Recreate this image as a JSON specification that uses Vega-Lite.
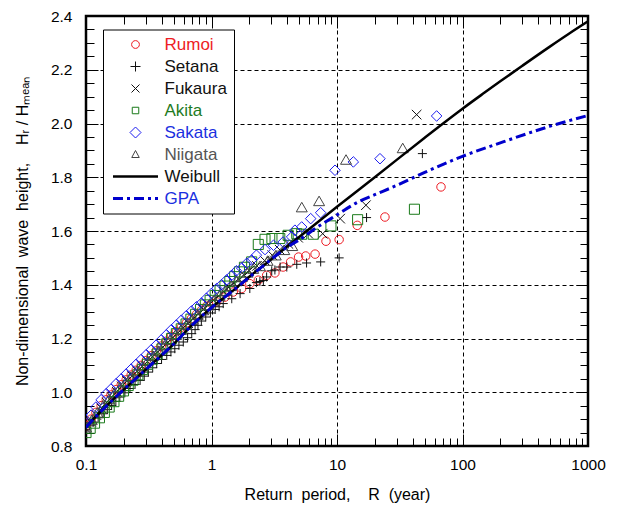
{
  "$schema": "https://vega.github.io/schema/vega-lite/v6.json",
  "width": 502,
  "height": 430,
  "autosize": "none",
  "padding": {"left": 86, "top": 16, "right": 30, "bottom": 60},
  "background": "white",
  "config": {
    "view": {"stroke": "black", "strokeWidth": 2.5},
    "font": "Liberation Sans",
    "axis": {"domain": false, "zindex": 1, "labelFont": "Liberation Sans", "labelFontSize": 15.5, "labelColor": "black", "titleFont": "Liberation Sans", "titleFontSize": 16, "titleFontWeight": "normal", "titleColor": "black", "labelOverlap": false, "labelFlush": false, "gridColor": "black", "gridDash": [4, 3], "gridWidth": 1}
  },
  "datasets": {
    "pts": [
      {"s":"Rumoi","R":0.1,"H":0.875},{"s":"Rumoi","R":0.11,"H":0.9},{"s":"Rumoi","R":0.12,"H":0.925},{"s":"Rumoi","R":0.132,"H":0.95},{"s":"Rumoi","R":0.145,"H":0.972},{"s":"Rumoi","R":0.158,"H":0.99},{"s":"Rumoi","R":0.174,"H":1.01},{"s":"Rumoi","R":0.191,"H":1.028},{"s":"Rumoi","R":0.209,"H":1.046},{"s":"Rumoi","R":0.229,"H":1.064},{"s":"Rumoi","R":0.251,"H":1.082},{"s":"Rumoi","R":0.275,"H":1.1},{"s":"Rumoi","R":0.302,"H":1.118},{"s":"Rumoi","R":0.331,"H":1.136},{"s":"Rumoi","R":0.363,"H":1.154},{"s":"Rumoi","R":0.398,"H":1.172},{"s":"Rumoi","R":0.437,"H":1.19},{"s":"Rumoi","R":0.479,"H":1.208},{"s":"Rumoi","R":0.525,"H":1.225},{"s":"Rumoi","R":0.575,"H":1.242},{"s":"Rumoi","R":0.631,"H":1.258},{"s":"Rumoi","R":0.692,"H":1.274},{"s":"Rumoi","R":0.759,"H":1.29},{"s":"Rumoi","R":0.832,"H":1.305},{"s":"Rumoi","R":0.912,"H":1.32},{"s":"Rumoi","R":1.0,"H":1.33},{"s":"Rumoi","R":1.1,"H":1.336},{"s":"Rumoi","R":1.28,"H":1.354},{"s":"Rumoi","R":1.49,"H":1.373},{"s":"Rumoi","R":1.74,"H":1.386},{"s":"Rumoi","R":2.02,"H":1.404},{"s":"Rumoi","R":2.36,"H":1.417},{"s":"Rumoi","R":2.75,"H":1.435},{"s":"Rumoi","R":3.2,"H":1.444},{"s":"Rumoi","R":3.72,"H":1.466},{"s":"Rumoi","R":4.27,"H":1.485},{"s":"Rumoi","R":4.94,"H":1.503},{"s":"Rumoi","R":5.63,"H":1.507},{"s":"Rumoi","R":6.69,"H":1.514},{"s":"Rumoi","R":8.17,"H":1.562},{"s":"Rumoi","R":10.4,"H":1.568},{"s":"Rumoi","R":14.5,"H":1.621},{"s":"Rumoi","R":24.1,"H":1.652},{"s":"Rumoi","R":67.4,"H":1.764},
      {"s":"Setana","R":0.1,"H":0.86},{"s":"Setana","R":0.107,"H":0.875},{"s":"Setana","R":0.114,"H":0.889},{"s":"Setana","R":0.125,"H":0.905},{"s":"Setana","R":0.137,"H":0.92},{"s":"Setana","R":0.148,"H":0.936},{"s":"Setana","R":0.16,"H":0.951},{"s":"Setana","R":0.173,"H":0.966},{"s":"Setana","R":0.186,"H":0.982},{"s":"Setana","R":0.204,"H":0.998},{"s":"Setana","R":0.224,"H":1.014},{"s":"Setana","R":0.246,"H":1.029},{"s":"Setana","R":0.27,"H":1.044},{"s":"Setana","R":0.291,"H":1.06},{"s":"Setana","R":0.314,"H":1.075},{"s":"Setana","R":0.34,"H":1.091},{"s":"Setana","R":0.366,"H":1.107},{"s":"Setana","R":0.4,"H":1.122},{"s":"Setana","R":0.44,"H":1.137},{"s":"Setana","R":0.475,"H":1.15},{"s":"Setana","R":0.51,"H":1.162},{"s":"Setana","R":0.55,"H":1.175},{"s":"Setana","R":0.596,"H":1.187},{"s":"Setana","R":0.645,"H":1.203},{"s":"Setana","R":0.696,"H":1.218},{"s":"Setana","R":0.74,"H":1.233},{"s":"Setana","R":0.78,"H":1.249},{"s":"Setana","R":0.83,"H":1.265},{"s":"Setana","R":0.9,"H":1.28},{"s":"Setana","R":0.98,"H":1.295},{"s":"Setana","R":1.07,"H":1.308},{"s":"Setana","R":1.15,"H":1.318},{"s":"Setana","R":1.24,"H":1.33},{"s":"Setana","R":1.45,"H":1.348},{"s":"Setana","R":1.69,"H":1.367},{"s":"Setana","R":2.02,"H":1.386},{"s":"Setana","R":2.28,"H":1.408},{"s":"Setana","R":2.43,"H":1.412},{"s":"Setana","R":2.59,"H":1.416},{"s":"Setana","R":2.75,"H":1.429},{"s":"Setana","R":3.02,"H":1.452},{"s":"Setana","R":3.2,"H":1.455},{"s":"Setana","R":3.52,"H":1.466},{"s":"Setana","R":3.98,"H":1.466},{"s":"Setana","R":4.78,"H":1.476},{"s":"Setana","R":5.72,"H":1.481},{"s":"Setana","R":7.41,"H":1.485},{"s":"Setana","R":10.4,"H":1.5},{"s":"Setana","R":17.2,"H":1.65},{"s":"Setana","R":47.9,"H":1.888},
      {"s":"Fukaura","R":0.1,"H":0.865},{"s":"Fukaura","R":0.11,"H":0.89},{"s":"Fukaura","R":0.121,"H":0.915},{"s":"Fukaura","R":0.133,"H":0.94},{"s":"Fukaura","R":0.146,"H":0.962},{"s":"Fukaura","R":0.16,"H":0.982},{"s":"Fukaura","R":0.176,"H":1.002},{"s":"Fukaura","R":0.193,"H":1.022},{"s":"Fukaura","R":0.212,"H":1.042},{"s":"Fukaura","R":0.233,"H":1.06},{"s":"Fukaura","R":0.256,"H":1.078},{"s":"Fukaura","R":0.281,"H":1.096},{"s":"Fukaura","R":0.309,"H":1.114},{"s":"Fukaura","R":0.339,"H":1.132},{"s":"Fukaura","R":0.372,"H":1.15},{"s":"Fukaura","R":0.409,"H":1.168},{"s":"Fukaura","R":0.449,"H":1.186},{"s":"Fukaura","R":0.493,"H":1.204},{"s":"Fukaura","R":0.541,"H":1.222},{"s":"Fukaura","R":0.594,"H":1.24},{"s":"Fukaura","R":0.652,"H":1.257},{"s":"Fukaura","R":0.716,"H":1.274},{"s":"Fukaura","R":0.786,"H":1.291},{"s":"Fukaura","R":0.863,"H":1.308},{"s":"Fukaura","R":0.948,"H":1.325},{"s":"Fukaura","R":1.04,"H":1.342},{"s":"Fukaura","R":1.14,"H":1.358},{"s":"Fukaura","R":1.25,"H":1.374},{"s":"Fukaura","R":1.37,"H":1.39},{"s":"Fukaura","R":1.51,"H":1.406},{"s":"Fukaura","R":1.66,"H":1.42},{"s":"Fukaura","R":1.82,"H":1.436},{"s":"Fukaura","R":2.0,"H":1.452},{"s":"Fukaura","R":2.3,"H":1.47},{"s":"Fukaura","R":2.65,"H":1.49},{"s":"Fukaura","R":3.05,"H":1.51},{"s":"Fukaura","R":3.5,"H":1.53},{"s":"Fukaura","R":4.1,"H":1.552},{"s":"Fukaura","R":4.9,"H":1.575},{"s":"Fukaura","R":5.9,"H":1.59},{"s":"Fukaura","R":7.69,"H":1.59},{"s":"Fukaura","R":10.6,"H":1.646},{"s":"Fukaura","R":17.0,"H":1.696},{"s":"Fukaura","R":43.1,"H":2.033},
      {"s":"Akita","R":0.1,"H":0.85},{"s":"Akita","R":0.108,"H":0.866},{"s":"Akita","R":0.117,"H":0.885},{"s":"Akita","R":0.128,"H":0.905},{"s":"Akita","R":0.14,"H":0.925},{"s":"Akita","R":0.153,"H":0.945},{"s":"Akita","R":0.167,"H":0.965},{"s":"Akita","R":0.182,"H":0.985},{"s":"Akita","R":0.199,"H":1.005},{"s":"Akita","R":0.217,"H":1.025},{"s":"Akita","R":0.237,"H":1.045},{"s":"Akita","R":0.259,"H":1.065},{"s":"Akita","R":0.283,"H":1.085},{"s":"Akita","R":0.309,"H":1.104},{"s":"Akita","R":0.338,"H":1.123},{"s":"Akita","R":0.369,"H":1.142},{"s":"Akita","R":0.403,"H":1.161},{"s":"Akita","R":0.44,"H":1.18},{"s":"Akita","R":0.481,"H":1.2},{"s":"Akita","R":0.525,"H":1.218},{"s":"Akita","R":0.574,"H":1.236},{"s":"Akita","R":0.627,"H":1.254},{"s":"Akita","R":0.685,"H":1.272},{"s":"Akita","R":0.748,"H":1.29},{"s":"Akita","R":0.817,"H":1.308},{"s":"Akita","R":0.893,"H":1.325},{"s":"Akita","R":0.975,"H":1.342},{"s":"Akita","R":1.07,"H":1.36},{"s":"Akita","R":1.17,"H":1.378},{"s":"Akita","R":1.28,"H":1.395},{"s":"Akita","R":1.4,"H":1.412},{"s":"Akita","R":1.53,"H":1.43},{"s":"Akita","R":1.67,"H":1.448},{"s":"Akita","R":1.83,"H":1.465},{"s":"Akita","R":2.09,"H":1.485},{"s":"Akita","R":2.36,"H":1.55},{"s":"Akita","R":2.67,"H":1.569},{"s":"Akita","R":3.03,"H":1.572},{"s":"Akita","R":3.5,"H":1.572},{"s":"Akita","R":4.08,"H":1.584},{"s":"Akita","R":4.78,"H":1.59},{"s":"Akita","R":5.23,"H":1.588},{"s":"Akita","R":6.47,"H":1.588},{"s":"Akita","R":8.95,"H":1.619},{"s":"Akita","R":14.6,"H":1.642},{"s":"Akita","R":41.4,"H":1.681},
      {"s":"Sakata","R":0.1,"H":0.885},{"s":"Sakata","R":0.11,"H":0.915},{"s":"Sakata","R":0.12,"H":0.945},{"s":"Sakata","R":0.132,"H":0.972},{"s":"Sakata","R":0.145,"H":0.995},{"s":"Sakata","R":0.158,"H":1.012},{"s":"Sakata","R":0.174,"H":1.032},{"s":"Sakata","R":0.191,"H":1.05},{"s":"Sakata","R":0.209,"H":1.068},{"s":"Sakata","R":0.229,"H":1.086},{"s":"Sakata","R":0.251,"H":1.104},{"s":"Sakata","R":0.275,"H":1.122},{"s":"Sakata","R":0.302,"H":1.14},{"s":"Sakata","R":0.331,"H":1.158},{"s":"Sakata","R":0.363,"H":1.176},{"s":"Sakata","R":0.398,"H":1.195},{"s":"Sakata","R":0.437,"H":1.214},{"s":"Sakata","R":0.479,"H":1.233},{"s":"Sakata","R":0.525,"H":1.25},{"s":"Sakata","R":0.575,"H":1.268},{"s":"Sakata","R":0.631,"H":1.285},{"s":"Sakata","R":0.692,"H":1.302},{"s":"Sakata","R":0.759,"H":1.318},{"s":"Sakata","R":0.832,"H":1.332},{"s":"Sakata","R":0.912,"H":1.35},{"s":"Sakata","R":1.0,"H":1.368},{"s":"Sakata","R":1.1,"H":1.386},{"s":"Sakata","R":1.2,"H":1.4},{"s":"Sakata","R":1.32,"H":1.418},{"s":"Sakata","R":1.45,"H":1.435},{"s":"Sakata","R":1.58,"H":1.452},{"s":"Sakata","R":1.74,"H":1.462},{"s":"Sakata","R":1.91,"H":1.48},{"s":"Sakata","R":2.09,"H":1.492},{"s":"Sakata","R":2.28,"H":1.51},{"s":"Sakata","R":2.67,"H":1.531},{"s":"Sakata","R":3.12,"H":1.547},{"s":"Sakata","R":3.72,"H":1.559},{"s":"Sakata","R":4.35,"H":1.578},{"s":"Sakata","R":4.62,"H":1.603},{"s":"Sakata","R":5.23,"H":1.615},{"s":"Sakata","R":6.17,"H":1.646},{"s":"Sakata","R":7.41,"H":1.668},{"s":"Sakata","R":9.64,"H":1.826},{"s":"Sakata","R":13.5,"H":1.857},{"s":"Sakata","R":22.0,"H":1.869},{"s":"Sakata","R":62.2,"H":2.028},
      {"s":"Niigata","R":0.1,"H":0.87},{"s":"Niigata","R":0.111,"H":0.897},{"s":"Niigata","R":0.123,"H":0.925},{"s":"Niigata","R":0.137,"H":0.952},{"s":"Niigata","R":0.152,"H":0.975},{"s":"Niigata","R":0.168,"H":0.997},{"s":"Niigata","R":0.186,"H":1.018},{"s":"Niigata","R":0.206,"H":1.038},{"s":"Niigata","R":0.228,"H":1.058},{"s":"Niigata","R":0.253,"H":1.078},{"s":"Niigata","R":0.28,"H":1.098},{"s":"Niigata","R":0.31,"H":1.117},{"s":"Niigata","R":0.343,"H":1.136},{"s":"Niigata","R":0.38,"H":1.155},{"s":"Niigata","R":0.421,"H":1.175},{"s":"Niigata","R":0.466,"H":1.195},{"s":"Niigata","R":0.516,"H":1.214},{"s":"Niigata","R":0.571,"H":1.233},{"s":"Niigata","R":0.632,"H":1.252},{"s":"Niigata","R":0.7,"H":1.27},{"s":"Niigata","R":0.775,"H":1.288},{"s":"Niigata","R":0.858,"H":1.306},{"s":"Niigata","R":0.95,"H":1.324},{"s":"Niigata","R":1.05,"H":1.342},{"s":"Niigata","R":1.16,"H":1.36},{"s":"Niigata","R":1.29,"H":1.378},{"s":"Niigata","R":1.43,"H":1.396},{"s":"Niigata","R":1.58,"H":1.414},{"s":"Niigata","R":1.75,"H":1.43},{"s":"Niigata","R":1.94,"H":1.446},{"s":"Niigata","R":2.15,"H":1.46},{"s":"Niigata","R":2.43,"H":1.47},{"s":"Niigata","R":2.8,"H":1.49},{"s":"Niigata","R":3.25,"H":1.51},{"s":"Niigata","R":3.8,"H":1.53},{"s":"Niigata","R":4.4,"H":1.545},{"s":"Niigata","R":5.24,"H":1.689},{"s":"Niigata","R":7.2,"H":1.712},{"s":"Niigata","R":11.8,"H":1.866},{"s":"Niigata","R":33.4,"H":1.909}
    ],
    "weibull": [
      {"R":0.1,"H":0.87},{"R":0.12,"H":0.91},{"R":0.15,"H":0.955},{"R":0.2,"H":1.01},{"R":0.3,"H":1.085},{"R":0.5,"H":1.18},{"R":0.7,"H":1.25},{"R":1,"H":1.315},{"R":1.5,"H":1.38},{"R":2,"H":1.43},{"R":3,"H":1.495},{"R":5,"H":1.578},{"R":10,"H":1.69},{"R":20,"H":1.8},{"R":50,"H":1.947},{"R":70,"H":2.0},{"R":100,"H":2.055},{"R":150,"H":2.115},{"R":200,"H":2.157},{"R":300,"H":2.215},{"R":500,"H":2.287},{"R":700,"H":2.333},{"R":1000,"H":2.38}
    ],
    "gpa": [
      {"R":0.1,"H":0.87},{"R":0.15,"H":0.955},{"R":0.2,"H":1.01},{"R":0.3,"H":1.085},{"R":0.5,"H":1.18},{"R":0.7,"H":1.25},{"R":1,"H":1.315},{"R":1.5,"H":1.38},{"R":2,"H":1.428},{"R":3,"H":1.495},{"R":4,"H":1.54},{"R":5,"H":1.567},{"R":7,"H":1.615},{"R":10,"H":1.66},{"R":15,"H":1.71},{"R":20,"H":1.735},{"R":30,"H":1.77},{"R":50,"H":1.818},{"R":100,"H":1.878},{"R":200,"H":1.928},{"R":500,"H":1.99},{"R":1000,"H":2.03}
    ]
  },
  "layer": [
    {
      "data": {"name": "pts"},
      "transform": [{"filter": {"field": "s", "oneOf": ["Rumoi", "Setana", "Fukaura"]}}],
      "mark": {"type": "point", "filled": false, "opacity": 1, "clip": true},
      "encoding": {
        "x": {"field": "R", "type": "quantitative", "scale": {"type": "log", "domain": [0.1, 1000], "nice": false},
          "axis": {"orient": "bottom", "title": "Return\u00a0 period,\u00a0\u00a0\u00a0 R\u00a0 (year)", "titlePadding": 14,
            "values": [0.1, 1, 10, 100, 1000], "format": "~g", "zindex": 0,
            "ticks": true, "tickColor": "black", "tickWidth": 1, "tickSize": 12, "offset": -12, "labelPadding": 11,
            "grid": true,
            "gridOpacity": {"condition": {"test": "datum.value==1||datum.value==10||datum.value==100", "value": 1}, "value": 0}
          }},
        "y": {"field": "H", "type": "quantitative", "scale": {"domain": [0.8, 2.4], "nice": false, "zero": false},
          "axis": {"orient": "left", "title": "Non-dimensional\u00a0 wave\u00a0 height,\u00a0\u00a0\u00a0 Hᵣ / Hₘₑₐₙ", "titlePadding": 20,
            "values": [0.8, 1, 1.2, 1.4, 1.6, 1.8, 2, 2.2, 2.4], "format": ".1f", "zindex": 0,
            "ticks": true, "tickColor": "black", "tickWidth": 1, "tickSize": 12, "offset": -12, "labelPadding": 14,
            "grid": true,
            "gridOpacity": {"condition": {"test": "datum.value>0.85 && datum.value<2.35", "value": 1}, "value": 0}
          }},
        "color": {"field": "s", "type": "nominal",
          "scale": {"domain": ["Rumoi","Setana","Fukaura","Akita","Sakata","Niigata","Weibull","GPA"], "range": ["#ee1c24","#111111","#111111","#1a7a1a","#1c1cf0","#444444","#000000","#0000cc"]},
          "legend": {
            "orient": "none", "legendX": 17, "legendY": 13.5, "title": null,
            "padding": 6.5, "fillColor": "white", "strokeColor": "black",
            "symbolSize": 100, "symbolOffset": 17.5, "labelOffset": 20.5, "rowPadding": 4,
            "labelFont": "Liberation Sans", "labelFontSize": 17, "labelLimit": 200,
            "symbolOpacity": 1, "symbolFillColor": "transparent",
            "symbolType": {"expr": "datum.value==='Rumoi'?'M-0.78,0A0.78,0.78,0,1,1,0.78,0A0.78,0.78,0,1,1,-0.78,0Z':datum.value==='Setana'?'M-1,0L1,0M0,-1L0,1':datum.value==='Fukaura'?'M-0.8,-0.8L0.8,0.8M-0.8,0.8L0.8,-0.8':datum.value==='Akita'?'M-0.65,-0.65L0.65,-0.65L0.65,0.65L-0.65,0.65Z':datum.value==='Sakata'?'M0,-1.1L1.1,0L0,1.1L-1.1,0Z':datum.value==='Niigata'?'M0,-0.8L0.75,0.6L-0.75,0.6Z':'M-4.5,0L4.5,0'"},
            "symbolStrokeWidth": {"expr": "datum.value==='Weibull'?2.5:datum.value==='GPA'?3:1"},
            "symbolDash": {"expr": "datum.value==='GPA'?[10,4,3,4]:[]"},
            "labelColor": {"expr": "datum.value==='Rumoi'?'#ee1c24':datum.value==='Akita'?'#1e7b1e':datum.value==='Sakata'?'#1a2fe0':datum.value==='GPA'?'#1a2fe0':datum.value==='Niigata'?'#555555':'#111111'"}
          }},
        "shape": {"field": "s", "type": "nominal", "legend": null,
          "scale": {"domain": ["Rumoi","Setana","Fukaura","Akita","Sakata","Niigata"], "range": ["circle","M-1,0L1,0M0,-1L0,1","M-1,-1L1,1M-1,1L1,-1","square","diamond","triangle-up"]}},
        "size": {"field": "s", "type": "nominal", "legend": null,
          "scale": {"domain": ["Rumoi","Setana","Fukaura","Akita","Sakata","Niigata"], "range": [72, 121, 90, 64, 110, 72]}},
        "strokeWidth": {"value": 1}
      }
    },
    {
      "data": {"name": "pts"},
      "transform": [{"filter": {"field": "s", "oneOf": ["Akita", "Sakata", "Niigata"]}}],
      "mark": {"type": "point", "filled": false, "opacity": 1, "clip": true},
      "encoding": {
        "x": {"field": "R", "type": "quantitative", "scale": {"type": "log", "domain": [0.1, 1000], "nice": false},
          "axis": {"orient": "bottom", "title": null, "labels": false, "grid": false,
            "values": [0.2,0.3,0.4,0.5,0.6,0.7,0.8,0.9,2,3,4,5,6,7,8,9,20,30,40,50,60,70,80,90,200,300,400,500,600,700,800,900],
            "ticks": true, "tickColor": "black", "tickWidth": 1, "tickSize": 8, "offset": -8}},
        "y": {"field": "H", "type": "quantitative", "scale": {"domain": [0.8, 2.4], "nice": false, "zero": false},
          "axis": {"orient": "left", "title": null, "labels": false, "grid": false,
            "values": [0.85,0.9,0.95,1.05,1.1,1.15,1.25,1.3,1.35,1.45,1.5,1.55,1.65,1.7,1.75,1.85,1.9,1.95,2.05,2.1,2.15,2.25,2.3,2.35],
            "ticks": true, "tickColor": "black", "tickWidth": 1, "tickSize": 8, "offset": -8}},
        "color": {"field": "s", "type": "nominal",
          "scale": {"domain": ["Rumoi","Setana","Fukaura","Akita","Sakata","Niigata","Weibull","GPA"], "range": ["#ee1c24","#111111","#111111","#1a7a1a","#1c1cf0","#444444","#000000","#0000cc"]},
          "legend": {
            "orient": "none", "legendX": 17, "legendY": 13.5, "title": null,
            "padding": 6.5, "fillColor": "white", "strokeColor": "black",
            "symbolSize": 100, "symbolOffset": 17.5, "labelOffset": 20.5, "rowPadding": 4,
            "labelFont": "Liberation Sans", "labelFontSize": 17, "labelLimit": 200,
            "symbolOpacity": 1, "symbolFillColor": "transparent",
            "symbolType": {"expr": "datum.value==='Rumoi'?'M-0.78,0A0.78,0.78,0,1,1,0.78,0A0.78,0.78,0,1,1,-0.78,0Z':datum.value==='Setana'?'M-1,0L1,0M0,-1L0,1':datum.value==='Fukaura'?'M-0.8,-0.8L0.8,0.8M-0.8,0.8L0.8,-0.8':datum.value==='Akita'?'M-0.65,-0.65L0.65,-0.65L0.65,0.65L-0.65,0.65Z':datum.value==='Sakata'?'M0,-1.1L1.1,0L0,1.1L-1.1,0Z':datum.value==='Niigata'?'M0,-0.8L0.75,0.6L-0.75,0.6Z':'M-4.5,0L4.5,0'"},
            "symbolStrokeWidth": {"expr": "datum.value==='Weibull'?2.5:datum.value==='GPA'?3:1"},
            "symbolDash": {"expr": "datum.value==='GPA'?[10,4,3,4]:[]"},
            "labelColor": {"expr": "datum.value==='Rumoi'?'#ee1c24':datum.value==='Akita'?'#1e7b1e':datum.value==='Sakata'?'#1a2fe0':datum.value==='GPA'?'#1a2fe0':datum.value==='Niigata'?'#555555':'#111111'"}
          }},
        "shape": {"field": "s", "type": "nominal", "legend": null,
          "scale": {"domain": ["Rumoi","Setana","Fukaura","Akita","Sakata","Niigata"], "range": ["circle","M-1,0L1,0M0,-1L0,1","M-1,-1L1,1M-1,1L1,-1","square","diamond","triangle-up"]}},
        "size": {"field": "s", "type": "nominal", "legend": null,
          "scale": {"domain": ["Rumoi","Setana","Fukaura","Akita","Sakata","Niigata"], "range": [72, 121, 90, 64, 110, 72]}},
        "strokeWidth": {"value": 1}
      }
    },
    {
      "data": {"name": "weibull"},
      "mark": {"type": "line", "color": "black", "strokeWidth": 2.5, "interpolate": "monotone", "clip": true},
      "encoding": {
        "x": {"field": "R", "type": "quantitative", "scale": {"type": "log", "domain": [0.1, 1000], "nice": false},
          "axis": {"orient": "top", "title": null, "labels": false, "grid": false,
            "values": [0.1, 1, 10, 100, 1000], "ticks": true, "tickColor": "black", "tickWidth": 1, "tickSize": 12, "offset": -12}},
        "y": {"field": "H", "type": "quantitative", "scale": {"domain": [0.8, 2.4], "nice": false, "zero": false},
          "axis": {"orient": "right", "title": null, "labels": false, "grid": false,
            "values": [0.8, 1, 1.2, 1.4, 1.6, 1.8, 2, 2.2, 2.4], "ticks": true, "tickColor": "black", "tickWidth": 1, "tickSize": 12, "offset": -12}}
      }
    },
    {
      "data": {"name": "gpa"},
      "mark": {"type": "line", "color": "#0000cc", "strokeWidth": 3, "strokeDash": [10, 4, 3, 4], "interpolate": "monotone", "clip": true},
      "encoding": {
        "x": {"field": "R", "type": "quantitative", "scale": {"type": "log", "domain": [0.1, 1000], "nice": false},
          "axis": {"orient": "top", "title": null, "labels": false, "grid": false,
            "values": [0.2,0.3,0.4,0.5,0.6,0.7,0.8,0.9,2,3,4,5,6,7,8,9,20,30,40,50,60,70,80,90,200,300,400,500,600,700,800,900],
            "ticks": true, "tickColor": "black", "tickWidth": 1, "tickSize": 8, "offset": -8}},
        "y": {"field": "H", "type": "quantitative", "scale": {"domain": [0.8, 2.4], "nice": false, "zero": false},
          "axis": {"orient": "right", "title": null, "labels": false, "grid": false,
            "values": [0.85,0.9,0.95,1.05,1.1,1.15,1.25,1.3,1.35,1.45,1.5,1.55,1.65,1.7,1.75,1.85,1.9,1.95,2.05,2.1,2.15,2.25,2.3,2.35],
            "ticks": true, "tickColor": "black", "tickWidth": 1, "tickSize": 8, "offset": -8}}
      }
    }
  ],
  "resolve": {"axis": {"x": "independent", "y": "independent"}}
}
